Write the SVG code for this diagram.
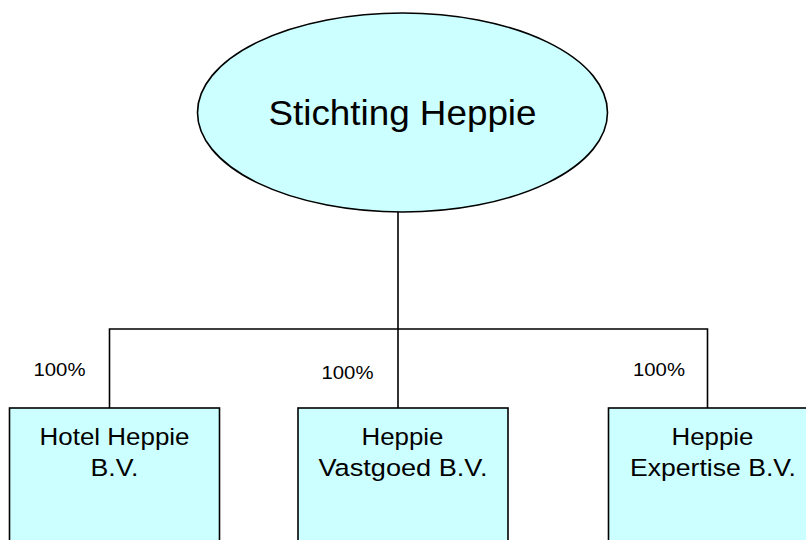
<svg xmlns="http://www.w3.org/2000/svg" width="806" height="540" viewBox="0 0 806 540">
<style>
.shape{fill:#CCFFFF;stroke:#000;stroke-width:1.6}
.conn{fill:none;stroke:#000;stroke-width:1.6}
text{font-family:"Liberation Sans",Arial,sans-serif;fill:#000;text-anchor:middle}
.big{font-size:35px}
.lbl{font-size:24.5px}
.pct{font-size:18px}
</style>
<rect width="806" height="540" fill="#fff"/>
<g id="connectors">
<path class="conn" d="M398 212 V329 M109.5 408 V329 H707.5 V408 M398 329 V408"/>
</g>
<g id="stichting">
<ellipse class="shape" cx="402.5" cy="112.5" rx="205" ry="99.5"/>
<text class="big" x="402.5" y="125" textLength="268" lengthAdjust="spacingAndGlyphs">Stichting Heppie</text>
</g>
<g id="hotel">
<rect class="shape" x="9.5" y="408" width="210" height="150"/>
<text class="lbl" x="114.5" y="444.5" textLength="150" lengthAdjust="spacingAndGlyphs">Hotel Heppie</text>
<text class="lbl" x="114.5" y="476" textLength="48" lengthAdjust="spacingAndGlyphs">B.V.</text>
</g>
<g id="vastgoed">
<rect class="shape" x="298" y="408" width="210" height="150"/>
<text class="lbl" x="402.5" y="444.5" textLength="82" lengthAdjust="spacingAndGlyphs">Heppie</text>
<text class="lbl" x="403" y="476" textLength="169" lengthAdjust="spacingAndGlyphs">Vastgoed B.V.</text>
</g>
<g id="expertise">
<rect class="shape" x="608.5" y="408" width="210" height="150"/>
<text class="lbl" x="712.5" y="444.5" textLength="82" lengthAdjust="spacingAndGlyphs">Heppie</text>
<text class="lbl" x="713" y="476" textLength="166" lengthAdjust="spacingAndGlyphs">Expertise B.V.</text>
</g>
<g id="labels">
<text class="pct" x="59.5" y="376" textLength="52" lengthAdjust="spacingAndGlyphs">100%</text>
<text class="pct" x="347.5" y="378.5" textLength="52" lengthAdjust="spacingAndGlyphs">100%</text>
<text class="pct" x="659" y="376" textLength="52" lengthAdjust="spacingAndGlyphs">100%</text>
</g>
</svg>
